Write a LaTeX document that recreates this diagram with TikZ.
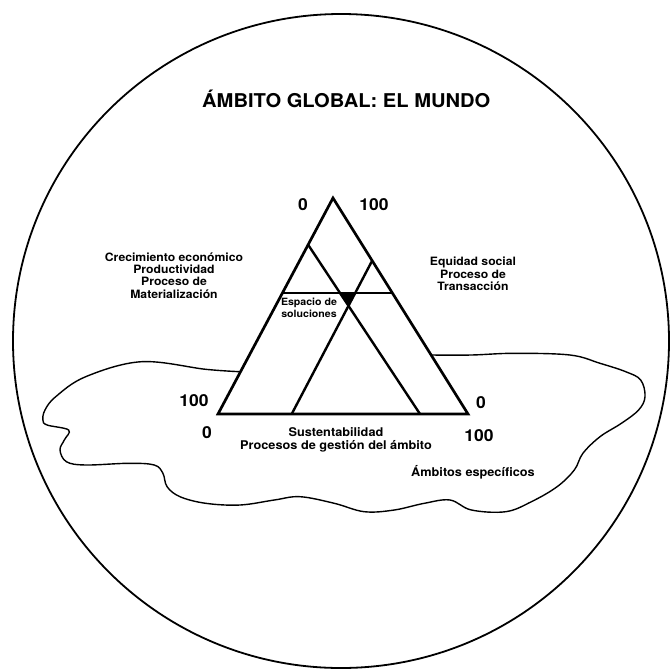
\documentclass[tikz,border=0pt]{standalone}
\usepackage{fontspec}
\setmainfont{TeX Gyre Heros}[BoldFeatures={FakeStretch=1.06}]
\begin{document}
\begin{tikzpicture}[x=1pt,y=-1pt,
  lbl/.style={font=\fontsize{11.5}{12.3}\selectfont\bfseries, align=center, inner sep=0pt},
  lblb/.style={font=\fontsize{12}{13}\selectfont\bfseries, align=center, inner sep=0pt},
  num/.style={font=\fontsize{16.5}{18}\selectfont\bfseries, inner sep=0pt},
  small/.style={font=\fontsize{10}{11.5}\selectfont\bfseries, align=center, inner sep=0pt},
  titlefont/.style={font=\fontsize{19}{21}\selectfont\bfseries, inner sep=0pt},
  tri/.style={line width=2.7pt, line join=miter},
  inner/.style={line width=2.4pt}]
\useasboundingbox (0,0) rectangle (672,670);
% world circle
\draw[line width=1.8pt] (341,341) ellipse [x radius=328, y radius=327];
% blob (specific domains)
\draw[line width=1.4pt] plot[smooth, tension=0.6] coordinates {
 (240,371.7) (205.7,369.3) (141.4,361.7) (85.7,376.7) (55.7,396.7) (45,410) (42.9,420)
 (47.1,425) (68.6,430) (64.3,440) (60,450) (66.4,461.7) (85.7,465) (128.6,463.3)
 (154.3,465) (162.9,473.3) (167.1,486.7) (180,496.7) (205.7,503.3) (240,505)
 (274.3,500) (300,496.7) (334.3,503.3) (364.3,511.7) (394.3,510) (424.3,503.3)
 (450,500) (471.4,510) (505.7,511.7) (531.4,501.7) (557.1,486.7) (574.3,470)
 (582.9,453.3) (600,436.7) (621.4,423.3) (638.6,410) (645,396.7) (640.7,380)
 (625.7,371.7) (600,363.3) (570,355) (514,353.3) (471.4,355) (431,355)};
% triangle
\coordinate (A) at (333,198);
\coordinate (BL) at (218,414);
\coordinate (BR) at (468,414);
\fill[white] (A) -- (BL) -- (BR) -- cycle;
\coordinate (h1) at (282.4,293);
\coordinate (h2) at (392.4,293);
\coordinate (p1) at (308.3,245);
\coordinate (q1) at (420,414);
\coordinate (p2) at (372,261);
\coordinate (q2) at (291.7,414);
\fill (340,293) -- (355.2,293) -- (348.4,305.7) -- cycle;
\draw[inner] (h1) -- (h2);
\draw[inner] (p1) -- (q1);
\draw[inner] (p2) -- (q2);
\draw[tri] (A) -- (BL) -- (BR) -- cycle;
% labels
\node[titlefont, anchor=west] (title) at (202,99) {ÁMBITO GLOBAL: EL MUNDO};
\node[num] (t0) at (303,205) {0};
\node[num] (t100) at (374,205) {100};
\node[lbl] (crec) at (174,275.5) {Crecimiento económico\\Productividad\\Proceso de\\Materialización};
\node[lbl] (equi) at (473,274) {Equidad social\\Proceso de\\Transacción};
\node[small] (esp) at (309,308) {Espacio de\\soluciones};
\node[num] (l100) at (194,401) {100};
\node[num] (l0) at (207,432.5) {0};
\node[num] (r0) at (481,403) {0};
\node[num] (r100) at (479,436) {100};
\node[lblb] (sust) at (336,439.5) {Sustentabilidad\\Procesos de gestión del ámbito};
\node[lblb] (amb) at (473,472) {Ámbitos específicos};
\end{tikzpicture}
\end{document}
